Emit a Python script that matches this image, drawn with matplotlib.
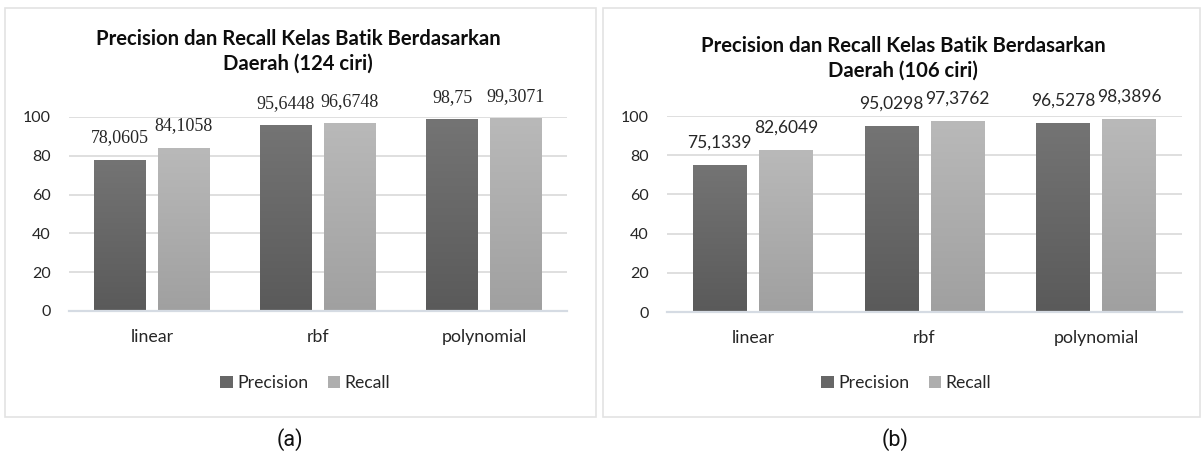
import numpy as np
import matplotlib
matplotlib.use("Agg")
import matplotlib.pyplot as plt
from matplotlib.patches import Rectangle
from matplotlib.colors import LinearSegmentedColormap

# ---- data ----
categories = ["linear", "rbf", "polynomial"]
series_names = ["Precision", "Recall"]
precision_124 = [78.0605, 95.6448, 98.75]
recall_124 = [84.1058, 96.6748, 99.3071]
labels_prec_124 = ["78,0605", "95,6448", "98,75"]
labels_rec_124 = ["84,1058", "96,6748", "99,3071"]
precision_106 = [75.1339, 95.0298, 96.5278]
recall_106 = [82.6049, 97.3762, 98.3896]
labels_prec_106 = ["75,1339", "95,0298", "96,5278"]
labels_rec_106 = ["82,6049", "97,3762", "98,3896"]
yticks = [0, 20, 40, 60, 80, 100]
title_124 = "Precision dan Recall Kelas Batik Berdasarkan\nDaerah (124 ciri)"
title_106 = "Precision dan Recall Kelas Batik Berdasarkan\nDaerah (106 ciri)"
captions = ["(a)", "(b)"]

W, H = 1204, 454
fig = plt.figure(figsize=(W / 100, H / 100), dpi=100)
fig.patch.set_facecolor("white")

SANS = "Lato"
prec_cmap = LinearSegmentedColormap.from_list("p", ["#5a5a5a", "#747474"])
rec_cmap = LinearSegmentedColormap.from_list("r", ["#a0a0a0", "#b9b9b9"])
prec_solid = "#676767"
rec_solid = "#aeaeae"


def px_rect(x0, y0, x1, y1):
    """convert pixel box (top-left origin) to figure fraction [l, b, w, h]"""
    return [x0 / W, 1 - y1 / H, (x1 - x0) / W, (y1 - y0) / H]


def gradient_bars(ax, xs, vals, width, cmap, solid):
    bars = ax.bar(xs, vals, width=width, color=solid, zorder=2, linewidth=0)
    grad = np.linspace(0, 1, 256).reshape(-1, 1)
    for b in bars:
        x0 = b.get_x()
        h = b.get_height()
        im = ax.imshow(grad, extent=[x0, x0 + b.get_width(), 0, h], origin="lower",
                       aspect="auto", cmap=cmap, zorder=3, interpolation="bicubic")
        im.set_clip_path(b)
    return bars


def panel(box, axbox, title, title_xy, prec, rec, lp, lr, label_font, label_size, caption, cap_x, legend_y):
    # border
    border = Rectangle((box[0] / W, 1 - box[3] / H), (box[2] - box[0]) / W, (box[3] - box[1]) / H,
                       transform=fig.transFigure, fill=False, edgecolor="#e3e3e3", linewidth=1.2)
    fig.add_artist(border)
    ax = fig.add_axes(px_rect(*axbox))
    x = np.arange(len(categories))
    bw = 0.313
    off = bw / 2 + 0.036
    bp = gradient_bars(ax, x - off, prec, bw, prec_cmap, prec_solid)
    br = gradient_bars(ax, x + off, rec, bw, rec_cmap, rec_solid)
    for bars, labs in ((bp, lp), (br, lr)):
        for b, t in zip(bars, labs):
            ax.annotate(t, (b.get_x() + b.get_width() / 2, b.get_height()),
                        xytext=(0, 16), textcoords="offset points", ha="center", va="center",
                        fontsize=label_size, family=label_font, color="#262626",
                        annotation_clip=False)
    ax.set_xlim(-0.5, len(categories) - 0.5)
    ax.set_ylim(0, 100)
    ax.set_yticks(yticks)
    ax.set_xticks(x)
    ax.set_xticklabels(categories)
    for s in ("top", "right", "left"):
        ax.spines[s].set_visible(False)
    ax.spines["bottom"].set_color("#d5dbe3")
    ax.spines["bottom"].set_linewidth(1.6)
    ax.spines["bottom"].set_zorder(4)
    ax.yaxis.grid(True, color="#dcdcdc", linewidth=1.3, zorder=0)
    ax.set_axisbelow(True)
    ax.tick_params(axis="both", length=0, colors="#262626")
    ax.tick_params(axis="y", pad=13, labelsize=11.5)
    ax.tick_params(axis="x", pad=13, labelsize=12.8)
    for t in ax.get_xticklabels() + ax.get_yticklabels():
        t.set_family(SANS)
    # title
    fig.text(title_xy[0] / W, 1 - title_xy[1] / H, title, ha="center", va="center",
             fontsize=14.6, fontweight="bold", family=SANS, color="#0d0d0d", linespacing=1.3)
    # legend
    cx = (box[0] + box[2]) / 2
    leg = fig.legend([bp[0], br[0]], series_names, loc="center",
                     bbox_to_anchor=(cx / W + 0.004, 1 - legend_y / H), ncol=2, frameon=False,
                     handlelength=0.7, handleheight=0.7, handletextpad=0.25, columnspacing=1.1,
                     prop={"family": SANS, "size": 12.7})
    for t in leg.get_texts():
        t.set_color("#262626")
    for hp, c in zip(leg.legend_handles, (prec_solid, rec_solid)):
        hp.set_facecolor(c)
    # caption
    fig.text(cap_x / W, 1 - 440 / H, caption, ha="center", va="center", fontsize=15.5,
             family="Roboto", color="#111111")
    return ax


panel((5, 8, 596, 417), (69, 117, 567, 311), title_124, (298, 51.5),
      precision_124, recall_124, labels_prec_124, labels_rec_124,
      "Liberation Serif", 13, captions[0], 290, 383)
panel((603, 8, 1200, 417), (667, 116, 1182, 312), title_106, (903, 58),
      precision_106, recall_106, labels_prec_106, labels_rec_106,
      SANS, 12.5, captions[1], 895, 383)

fig.savefig("out.png", dpi=100, facecolor="white")
